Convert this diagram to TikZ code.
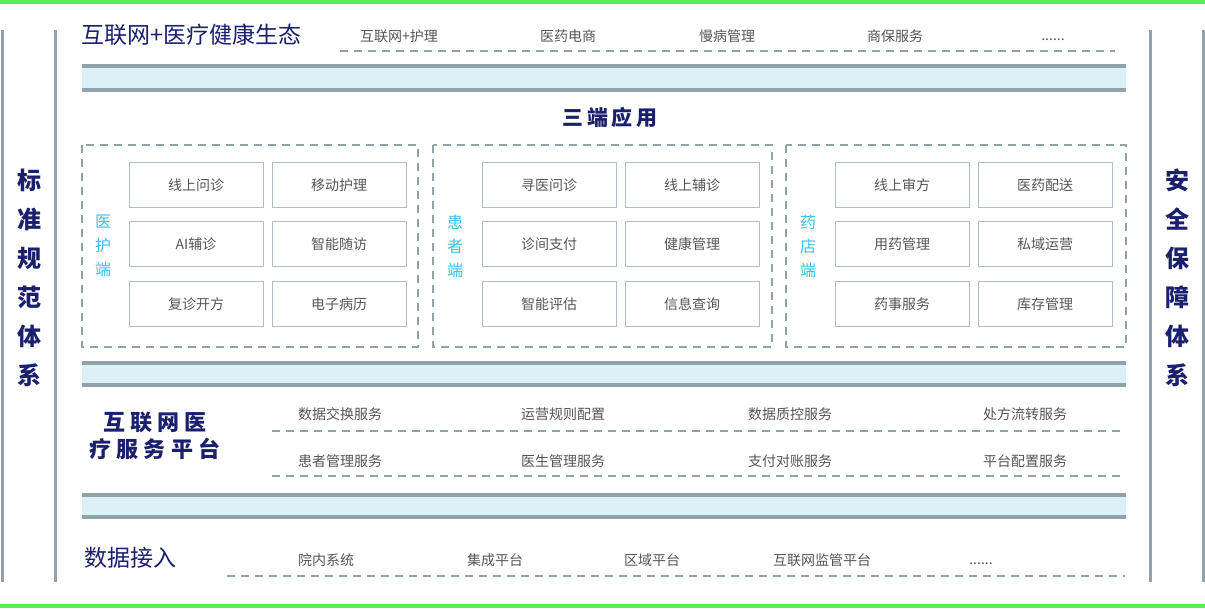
\documentclass[tikz,border=0pt]{standalone}
\usepackage{fontspec}
\setmainfont{Noto Sans CJK SC}
\definecolor{navy}{HTML}{1A1F6E}
\definecolor{greyline}{HTML}{8FA3AB}
\definecolor{bandfill}{HTML}{DBF0F7}
\definecolor{textgrey}{HTML}{555555}
\definecolor{cyanlabel}{HTML}{3CC0E8}
\definecolor{greenline}{HTML}{55EE55}
\tikzset{
  item/.style={text=textgrey, font=\fontsize{14}{14}\selectfont},
  cell/.style={draw=greyline!70, line width=1pt, minimum width=134pt, minimum height=45pt, inner sep=0pt, text=textgrey, font=\fontsize{14}{14}\selectfont},
  title/.style={text=navy, font=\fontsize{23}{23}\selectfont},
  sidetitle/.style={text=navy, font=\bfseries\fontsize{24}{24}\selectfont, align=center},
  endlabel/.style={text=cyanlabel, font=\fontsize{16}{16}\selectfont},
  dashline/.style={draw=greyline, dash pattern=on 8pt off 6pt, line width=1.5pt},
  groupbox/.style={draw=greyline, dash pattern=on 8pt off 6pt, line width=1.5pt},
  band/.style={fill=bandfill, draw=none}
}
\newcommand{\bandbar}[2]{%
  \fill[bandfill] (82,#1) rectangle (1126,#2);
  \draw[greyline, line width=3.5pt] (82,#1) -- (1126,#1);
  \draw[greyline, line width=3.5pt] (82,#2) -- (1126,#2);}
\begin{document}
\begin{tikzpicture}[x=1pt,y=-1pt]
  \useasboundingbox (0,0) rectangle (1205,609);

  % Green frame lines
  \draw[greenline, line width=4pt] (0,2) -- (1205,2);
  \draw[greenline, line width=4pt] (0,606) -- (1205,606);

  % Side columns
  \foreach \x in {2,55,1150,1203}
    \draw[greyline, line width=3pt] (\x,30) -- (\x,582);
  \node[sidetitle] (leftcol) at (29,278) {标\\[15pt]准\\[15pt]规\\[15pt]范\\[15pt]体\\[15pt]系};
  \node[sidetitle] (rightcol) at (1177,278) {安\\[15pt]全\\[15pt]保\\[15pt]障\\[15pt]体\\[15pt]系};

  % Ecosystem layer
  \node[title, anchor=west] (eco) at (78,35) {互联网+医疗健康生态};
  \node[item] (eco1) at (399,36) {互联网+护理};
  \node[item] (eco2) at (568,36) {医药电商};
  \node[item] (eco3) at (727,36) {慢病管理};
  \node[item] (eco4) at (895,36) {商保服务};
  \node[item] (eco5) at (1053,40) {......};
  \draw[dashline] (340,51) -- (1115,51);

  \bandbar{66}{90}

  % Three-terminal applications
  \node[text=navy, font=\bfseries\fontsize{21}{21}\selectfont] (apps) at (610,117) {三\,端\,应\,用};

  \draw[groupbox] (82,145) rectangle (418,347);
  \draw[groupbox] (433,145) rectangle (772,347);
  \draw[groupbox] (786,145) rectangle (1126,347);

  \node[endlabel, align=center] (doc) at (103,246) {医\\[8pt]护\\[8pt]端};
  \node[endlabel, align=center] (pat) at (455,246) {患\\[8pt]者\\[8pt]端};
  \node[endlabel, align=center] (pha) at (808,246) {药\\[8pt]店\\[8pt]端};

  % Application cells
  \node[cell] (d11) at (196,185) {线上问诊};
  \node[cell] (d12) at (339,185) {移动护理};
  \node[cell] (d21) at (196,244) {AI辅诊};
  \node[cell] (d22) at (339,244) {智能随访};
  \node[cell] (d31) at (196,304) {复诊开方};
  \node[cell] (d32) at (339,304) {电子病历};

  \node[cell] (p11) at (549,185) {寻医问诊};
  \node[cell] (p12) at (692,185) {线上辅诊};
  \node[cell] (p21) at (549,244) {诊间支付};
  \node[cell] (p22) at (692,244) {健康管理};
  \node[cell] (p31) at (549,304) {智能评估};
  \node[cell] (p32) at (692,304) {信息查询};

  \node[cell] (h11) at (902,185) {线上审方};
  \node[cell] (h12) at (1045,185) {医药配送};
  \node[cell] (h21) at (902,244) {用药管理};
  \node[cell] (h22) at (1045,244) {私域运营};
  \node[cell] (h31) at (902,304) {药事服务};
  \node[cell] (h32) at (1045,304) {库存管理};

  \bandbar{363}{385}

  % Service platform
  \node[text=navy, font=\bfseries\fontsize{22}{22}\selectfont, align=center] (plat) at (155,436)
    {互\ 联\ 网\ 医\\[5pt]疗\ 服\ 务\ 平\ 台};
  \node[item] (s11) at (340,414) {数据交换服务};
  \node[item] (s12) at (563,414) {运营规则配置};
  \node[item] (s13) at (790,414) {数据质控服务};
  \node[item] (s14) at (1025,414) {处方流转服务};
  \node[item] (s21) at (340,461) {患者管理服务};
  \node[item] (s22) at (563,461) {医生管理服务};
  \node[item] (s23) at (790,461) {支付对账服务};
  \node[item] (s24) at (1025,461) {平台配置服务};
  \draw[dashline] (272,431) -- (1125,431);
  \draw[dashline] (272,476) -- (1125,476);

  \bandbar{495}{517}

  % Data access
  \node[title, anchor=west] (data) at (81,558) {数据接入};
  \node[item] (a1) at (326,560) {院内系统};
  \node[item] (a2) at (495,560) {集成平台};
  \node[item] (a3) at (652,560) {区域平台};
  \node[item] (a4) at (822,560) {互联网监管平台};
  \node[item] (a5) at (981,564) {......};
  \draw[dashline] (227,576) -- (1125,576);
\end{tikzpicture}
\end{document}
